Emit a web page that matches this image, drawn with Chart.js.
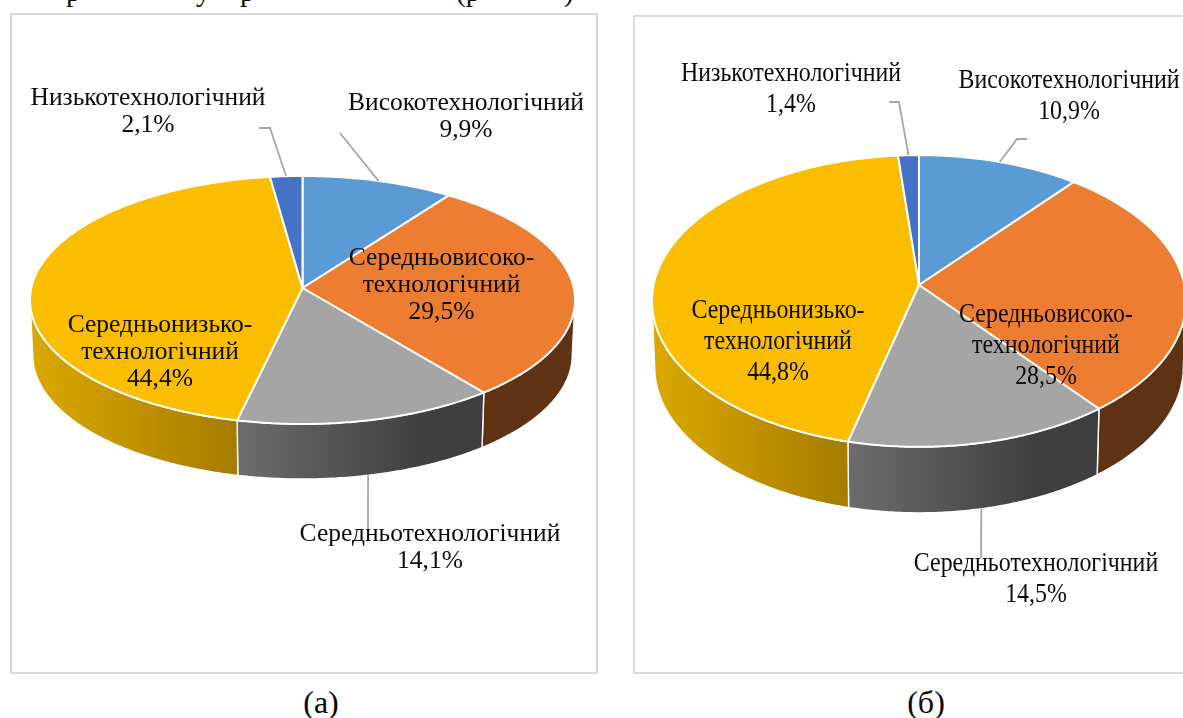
<!DOCTYPE html>
<html>
<head>
<meta charset="utf-8">
<script src="https://cdn.jsdelivr.net/npm/chart.js@4/dist/chart.umd.js"></script>
<style>
  html, body { margin: 0; background: #fff; overflow: hidden; width: 1183px; height: 718px; }
  body { position: relative; font-family: "Liberation Serif", serif; color: #0a0a0a; }
  .frame { position: absolute; border: 2px solid #d9d9d9; box-sizing: border-box; }
  canvas { position: absolute; }
  .caption { position: absolute; font-size: 32px; transform: translateX(-50%); white-space: nowrap; }
  .cut { position: absolute; top: -25px; font-size: 29px; }
</style>
</head>
<body>
<span class="cut" style="left:66px">р</span>
<span class="cut" style="left:196px">у</span>
<span class="cut" style="left:240px">р</span>
<span class="cut" style="left:456px">(р</span>
<span class="cut" style="left:564px">)</span>
<div class="frame" style="left:10px;top:13px;width:588px;height:661px"></div>
<div class="frame" style="left:633px;top:15px;width:580px;height:659px"></div>
<canvas id="pieA" width="585" height="658" style="left:11px;top:14px"></canvas>
<canvas id="pieB" width="568" height="656" style="left:635px;top:16px"></canvas>
<div class="caption" style="left:321px;top:684px">(а)</div>
<div class="caption" style="left:926px;top:684px">(б)</div>

<script>
const categories = ['Високотехнологічний', 'Середньовисоко-\nтехнологічний', 'Середньотехнологічний', 'Середньонизько-\nтехнологічний', 'Низькотехнологічний'];
const valuesA = [9.9, 29.5, 14.1, 44.4, 2.1];
const valuesB = [10.9, 28.5, 14.5, 44.8, 1.4];

const topColors = ['#5b9bd5', '#ed7d31', '#a5a5a5', '#fbbd00', '#4472c4'];
const sideLight = ['#335a7d', '#5f3214', '#6c6c6c', '#dba800', '#27437a'];
const sideDark = ['#335a7d', '#5f3214', '#3f3f3f', '#a67c00', '#27437a'];
const sideEnd = [1, 1, 0.75, 1, 1];

// label centre x, first line y, then the elbow points of the leader (pie end is computed)
const layoutA = {
  font: 25.5, squeeze: 1, lineHeight: 27,
  labels: [[466, 103], [441.5, 258], [430, 534], [160, 325], [148, 98]],
  leaders: [[[340, 133]], null, [[368, 540]], null, [[270, 128], [259, 128]]]
};
const layoutB = {
  font: 27, squeeze: 0.885, lineHeight: 30.8,
  labels: [[1069, 81], [1046, 315], [1036, 564], [778, 311], [791, 74]],
  leaders: [[[1017, 139], [1027, 139]], null, [[981, 558]], null, [[899, 102], [889, 102]]]
};

// pie top is a perspective view of a circle, side is the same rim pushed down
class Arc3d extends Chart.ArcElement {
  static id = 'arc3d';
  static defaults = { squash: 1, perspective: 0, depth: 0, shrink: 1, sideFrom: '#000', sideTo: '#000', sideStop: 1 };

  rim(angle, lower) {
    const o = this.options;
    const X = Math.cos(angle), Y = Math.sin(angle);
    const d = 1 - o.perspective * Y;
    return {
      x: this.x + this.outerRadius * X / d * (lower ? o.shrink : 1),
      y: this.y + this.outerRadius * o.squash * Y / d + (lower ? o.depth : 0)
    };
  }

  rimPoints(from, to, lower) {
    const pts = [];
    const n = Math.ceil((to - from) / 0.01);
    for (let i = 0; i <= n; i++) {
      pts.push(this.rim(from + (to - from) * i / n, lower));
    }
    return pts;
  }

  anchor() {
    const mid = (this.startAngle + this.endAngle) / 2;
    return this.rim(mid, Math.sin(mid) > 0);
  }

  drawSide(ctx) {
    const o = this.options;
    // only the part of the rim that faces the viewer
    const edge = Math.asin(o.perspective);
    const from = Math.max(this.startAngle, edge);
    const to = Math.min(this.endAngle, Math.PI - edge);
    if (to <= from) return;
    const upper = this.rimPoints(from, to, false);
    const lower = this.rimPoints(from, to, true).reverse();
    const xs = upper.map(p => p.x);
    const left = Math.min(...xs), right = Math.max(...xs);
    const g = ctx.createLinearGradient(left, 0, right, 0);
    g.addColorStop(0, o.sideFrom);
    g.addColorStop(o.sideStop, o.sideTo);
    g.addColorStop(1, o.sideTo);
    ctx.beginPath();
    upper.concat(lower).forEach((p, i) => i ? ctx.lineTo(p.x, p.y) : ctx.moveTo(p.x, p.y));
    ctx.closePath();
    ctx.fillStyle = g;
    ctx.fill();
    ctx.strokeStyle = o.borderColor;
    ctx.lineWidth = 1.4;
    ctx.stroke();
  }

  draw(ctx) {
    const o = this.options;
    ctx.save();
    ctx.beginPath();
    ctx.moveTo(this.x, this.y);
    this.rimPoints(this.startAngle, this.endAngle, false).forEach(p => ctx.lineTo(p.x, p.y));
    ctx.closePath();
    ctx.fillStyle = o.backgroundColor;
    ctx.fill();
    ctx.strokeStyle = o.borderColor;
    ctx.lineWidth = o.borderWidth;
    ctx.lineJoin = 'round';
    ctx.stroke();
    ctx.restore();
  }
}

class Pie3dController extends Chart.PieController {
  static id = 'pie3d';
  static defaults = { dataElementType: 'arc3d' };

  draw() {
    const ctx = this.chart.ctx;
    ctx.save();
    this.getMeta().data.forEach(a => a.drawSide(ctx));
    ctx.restore();
    super.draw();
  }
}
Chart.register(Arc3d, Pie3dController);

const calloutPlugin = {
  id: 'callouts',
  afterDatasetsDraw(chart, args, opts) {
    const ctx = chart.ctx;
    const box = chart.canvas.getBoundingClientRect();
    const values = chart.data.datasets[0].data;
    const arcs = chart.getDatasetMeta(0).data;
    ctx.save();
    ctx.translate(-box.left, -box.top);
    // leaders first, the text sits over them
    ctx.strokeStyle = '#a6a6a6';
    ctx.lineWidth = 1.8;
    arcs.forEach((arc, i) => {
      if (!opts.leaders[i]) return;
      const a = arc.anchor();
      ctx.beginPath();
      ctx.moveTo(a.x + box.left, a.y + box.top);
      opts.leaders[i].forEach(p => ctx.lineTo(p[0], p[1]));
      ctx.stroke();
    });
    ctx.fillStyle = '#0a0a0a';
    ctx.font = opts.font + 'px "Liberation Serif"';
    ctx.textAlign = 'center';
    ctx.textBaseline = 'middle';
    categories.forEach((name, i) => {
      const lines = name.split('\n').concat(values[i].toFixed(1).replace('.', ',') + '%');
      lines.forEach((line, j) => {
        const w = ctx.measureText(line).width * opts.squeeze;
        ctx.fillText(line, opts.labels[i][0], opts.labels[i][1] + j * opts.lineHeight, w);
      });
    });
    ctx.restore();
  }
};

function makePie(id, values, radius, squash, perspective, depth, padding, layout) {
  return new Chart(document.getElementById(id), {
    type: 'pie3d',
    data: {
      labels: categories,
      datasets: [{
        data: values,
        backgroundColor: topColors,
        borderColor: '#fff',
        borderWidth: 2,
        radius: radius,
        clip: false,
        squash: squash,
        perspective: perspective,
        depth: depth,
        shrink: 0.99,
        sideFrom: sideLight,
        sideTo: sideDark,
        sideStop: sideEnd
      }]
    },
    options: {
      responsive: false,
      animation: false,
      events: [],
      layout: { padding: padding },
      plugins: {
        legend: { display: false },
        tooltip: { enabled: false },
        callouts: layout
      }
    },
    plugins: [calloutPlugin]
  });
}

makePie('pieA', valuesA, 271.2, 0.453, 0.0968, 55, { right: 2, bottom: 110 }, layoutA);
makePie('pieB', valuesB, 265.4, 0.543, 0.1096, 66, { bottom: 118 }, layoutB);
</script>
</body>
</html>
